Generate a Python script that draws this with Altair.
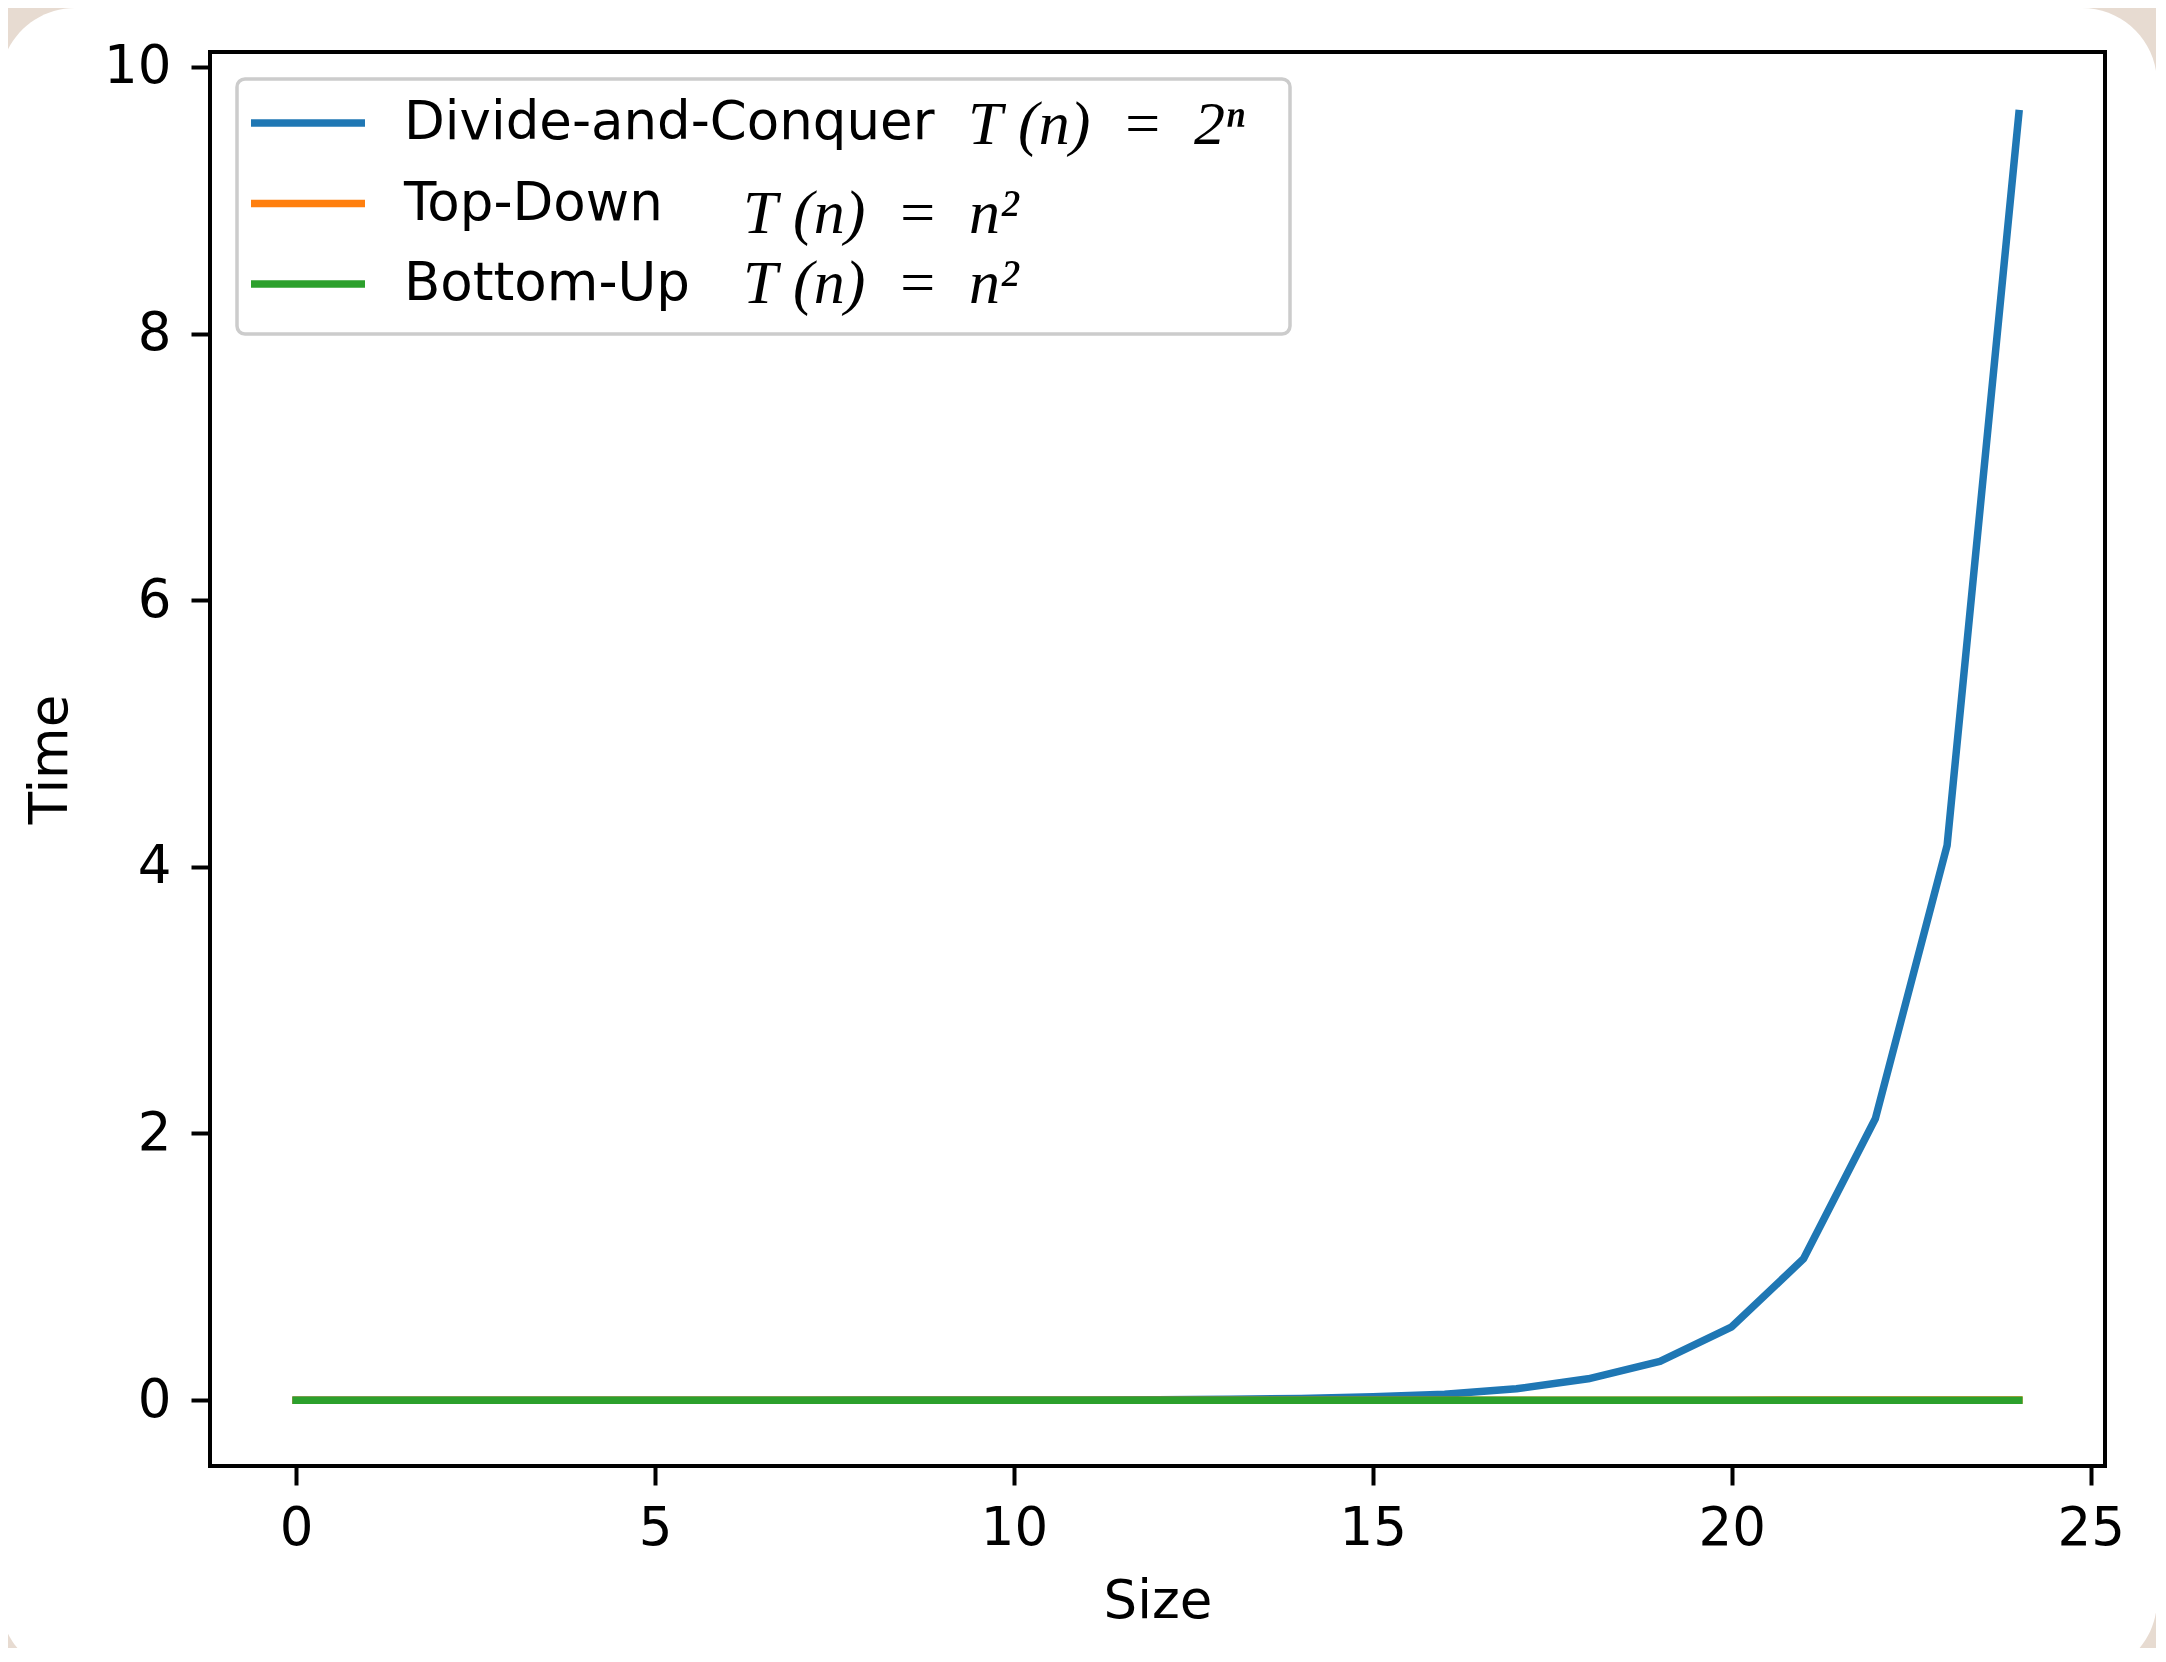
import altair as alt
import pandas as pd

# ---------------- data ----------------
sizes = list(range(25))
divide_conquer = [0.0000, 0.0000, 0.0000, 0.0000, 0.0000, 0.0000, 0.0001, 0.0001,
                  0.0002, 0.0005, 0.0009, 0.0018, 0.0036, 0.0070, 0.0130, 0.0250,
                  0.0450, 0.0850, 0.1600, 0.2900, 0.5500, 1.0600, 2.1100, 4.1600,
                  9.6500]
top_down = [0.0000, 0.0000, 0.0000, 0.0000, 0.0000, 0.0000, 0.0000, 0.0000,
            0.0000, 0.0000, 0.0000, 0.0001, 0.0001, 0.0001, 0.0001, 0.0001,
            0.0001, 0.0001, 0.0001, 0.0001, 0.0001, 0.0002, 0.0002, 0.0002,
            0.0002]
bottom_up = [0.0000, 0.0000, 0.0000, 0.0000, 0.0000, 0.0000, 0.0000, 0.0000,
             0.0000, 0.0000, 0.0000, 0.0000, 0.0001, 0.0001, 0.0001, 0.0001,
             0.0001, 0.0001, 0.0001, 0.0001, 0.0001, 0.0001, 0.0001, 0.0001,
             0.0001]

series_names = ["Divide-and-Conquer", "Top-Down", "Bottom-Up"]
series_colors = ["#1f77b4", "#ff7f0e", "#2ca02c"]
keys_first = ["D", "T", "B"]      # formula legend for the first row
keys_rest = ["d", "t", "b"]       # formula legend for the other rows
NB = "\u00a0"
formulas = ["T" + NB + "(n)" + NB * 2 + "=" + NB * 2 + "2\u207f",
            "T" + NB + "(n)" + NB * 2 + "=" + NB * 2 + "n\u00b2",
            "T" + NB + "(n)" + NB * 2 + "=" + NB * 2 + "n\u00b2"]
x_ticks = [0, 5, 10, 15, 20, 25]
y_ticks = [0, 2, 4, 6, 8, 10]

rows = []
for name, kf, kr, vals in zip(series_names, keys_first, keys_rest,
                              [divide_conquer, top_down, bottom_up]):
    for n, v in zip(sizes, vals):
        rows.append({"Size": n, "Time": v, "series": name, "kf": kf, "kr": kr})
df = pd.DataFrame(rows)
one = pd.DataFrame({"k": [0]})

# ---------------- layout ----------------
W, H = 1895, 1414
FONT = "DejaVu Sans"
FS = 53
MATH_FONT = "Liberation Serif"
MATH_FS = 62

x_enc = alt.X("Size:Q",
              scale=alt.Scale(domain=[-1.2, 25.2], nice=False, zero=False),
              axis=alt.Axis(values=x_ticks, title="Size", grid=False, domain=False,
                            labelFont=FONT, labelFontSize=FS, labelColor="black",
                            titleFont=FONT, titleFontSize=FS, titleFontWeight="normal",
                            titleColor="black", tickColor="black", tickWidth=4,
                            tickSize=19, labelPadding=17, titlePadding=20,
                            labelFlush=False, labelOverlap=False, zindex=1))
y_enc = alt.Y("Time:Q",
              scale=alt.Scale(domain=[-0.494, 10.112], nice=False, zero=False),
              axis=alt.Axis(values=y_ticks, title="Time", grid=False, domain=False,
                            labelFont=FONT, labelFontSize=FS, labelColor="black",
                            titleFont=FONT, titleFontSize=FS, titleFontWeight="normal",
                            titleColor="black", tickColor="black", tickWidth=4,
                            tickSize=19, labelPadding=20, titlePadding=26,
                            labelFlush=False, labelOverlap=False, zindex=1))

color_enc = alt.Color("series:N",
                      scale=alt.Scale(domain=series_names, range=series_colors),
                      legend=alt.Legend(title=None, orient="none", legendX=37, legendY=41,
                                        padding=0, symbolType="stroke",
                                        symbolSize=12996, symbolStrokeWidth=7.5,
                                        labelFont=FONT, labelFontSize=FS,
                                        labelColor="black", labelOffset=35,
                                        clipHeight=60, rowPadding=20.5,
                                        labelLimit=3000, zindex=2))

expr_first = "'" + formulas[0] + "'"
expr_rest = "datum.value == '" + keys_rest[1] + "' ? '" + formulas[1] + "' : '" + formulas[2] + "'"

math_legend = dict(title=None, orient="none", padding=0, symbolType="stroke",
                   symbolSize=12996, symbolStrokeWidth=7.5, symbolOpacity=0,
                   symbolStrokeColor="transparent", labelFont=MATH_FONT,
                   labelFontStyle="italic", labelFontSize=MATH_FS, labelColor="black",
                   clipHeight=60, labelLimit=3000, zindex=2)

dash_enc = alt.StrokeDash("kf:N", scale=alt.Scale(domain=keys_first),
                          legend=alt.Legend(values=keys_first[:1], legendX=37, legendY=43,
                                            labelOffset=599, labelExpr=expr_first,
                                            **math_legend))
opac_enc = alt.Opacity("kr:N", scale=alt.Scale(domain=keys_rest, range=[0, 0]),
                       legend=alt.Legend(values=keys_rest[1:], legendX=37, legendY=132,
                                         labelOffset=374, rowPadding=8,
                                         labelExpr=expr_rest, **math_legend))

card = alt.Chart(one).mark_rect(color="white", cornerRadius=75).encode(
    x=alt.value(-210), x2=alt.value(1947), y=alt.value(-44), y2=alt.value(1623))

legend_frame = alt.Chart(one).mark_rect(
    fill="white", fillOpacity=0.8, stroke="#cccccc", strokeWidth=3.5, cornerRadius=8
).encode(x=alt.value(27), x2=alt.value(1080), y=alt.value(27), y2=alt.value(282))

line_layers = []
for name in series_names:
    line_layers.append(
        alt.Chart(df).transform_filter(alt.datum.series == name)
        .mark_line(strokeWidth=7.5, strokeCap="square", strokeJoin="round")
        .encode(x=x_enc, y=y_enc, color=color_enc)
    )

ghost1 = alt.Chart(df).mark_line(opacity=0).encode(x=x_enc, y=y_enc, strokeDash=dash_enc)
ghost2 = alt.Chart(df).mark_line().encode(x=x_enc, y=y_enc, opacity=opac_enc, detail="kr:N")

frame = alt.Chart(one).mark_rect(fillOpacity=0, stroke="black", strokeWidth=4).encode(
    x=alt.value(0), x2=alt.value(W), y=alt.value(0), y2=alt.value(H))

chart = alt.layer(card, *line_layers, ghost1, ghost2, legend_frame, frame).properties(
    width=W, height=H,
    background="#e7dbd1",
    padding={"left": 202, "top": 44, "right": 51, "bottom": 182},
    autosize=alt.AutoSizeParams(type="none"),
).configure_view(strokeWidth=0)

chart.save("out.html", embed_options={"renderer": "svg", "actions": False})
